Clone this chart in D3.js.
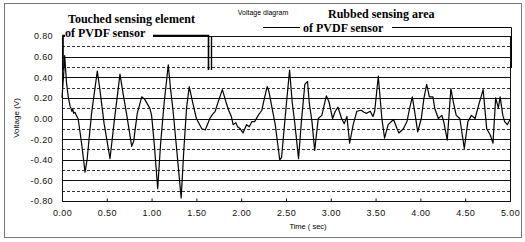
<!DOCTYPE html>
<html>
<head>
<meta charset="utf-8">
<script src="https://cdn.jsdelivr.net/npm/d3@7"></script>
<style>
  body { margin: 0; background: #fff; }
  svg { display: block; }
  .tick text { font-family: "Liberation Sans", Arial, sans-serif; font-size: 9px; fill: #111; letter-spacing: 0.4px; }
  .note { font-family: "Liberation Serif", "Times New Roman", serif; font-weight: bold; font-size: 12px; fill: #000; }
</style>
</head>
<body>
<div id="chart"></div>
<script>
// voltage signal (time in sec, voltage in V)
var times = [0.00, 0.02, 0.03, 0.05, 0.07, 0.09, 0.10, 0.11, 0.12, 0.13, 0.145, 0.16, 0.18,
  0.22, 0.257, 0.28, 0.33, 0.394, 0.42, 0.47, 0.536, 0.58, 0.647, 0.68, 0.72, 0.778, 0.80,
  0.84, 0.89, 0.92, 0.96, 0.98, 1.00, 1.03, 1.068, 1.10, 1.14, 1.186, 1.21, 1.24, 1.28, 1.33,
  1.36, 1.39, 1.42, 1.46, 1.50, 1.56, 1.60, 1.65, 1.68, 1.71, 1.75, 1.79, 1.83, 1.86, 1.89,
  1.91, 1.94, 1.96, 1.99, 2.02, 2.06, 2.09, 2.12, 2.15, 2.19, 2.23, 2.26, 2.29, 2.31, 2.34,
  2.38, 2.43, 2.45, 2.50, 2.54, 2.57, 2.60, 2.64, 2.67, 2.71, 2.74, 2.76, 2.79, 2.82, 2.86,
  2.90, 2.95, 2.98, 3.02, 3.05, 3.08, 3.12, 3.15, 3.18, 3.21, 3.25, 3.29, 3.34, 3.37, 3.40,
  3.44, 3.47, 3.49, 3.53, 3.57, 3.60, 3.64, 3.70, 3.74, 3.76, 3.81, 3.85, 3.88, 3.91, 3.93,
  3.97, 4.01, 4.04, 4.07, 4.10, 4.14, 4.16, 4.20, 4.24, 4.26, 4.30, 4.34, 4.37, 4.40, 4.44,
  4.49, 4.53, 4.57, 4.61, 4.65, 4.70, 4.74, 4.78, 4.81, 4.84, 4.87, 4.89, 4.92, 4.94, 4.97, 5.00];
var volts = [0.20, 0.45, 0.61, 0.35, 0.21, 0.12, 0.10, 0.07, 0.09, 0.05, 0.06, 0.03, 0.00,
  -0.25, -0.52, -0.40, 0.05, 0.46, 0.30, -0.05, -0.39, -0.05, 0.43, 0.25, 0.05, -0.27, -0.22,
  0.05, 0.21, 0.19, 0.13, 0.10, 0.03, -0.25, -0.68, -0.25, 0.15, 0.52, 0.30, 0.07, -0.30, -0.77,
  -0.30, 0.10, 0.31, 0.15, 0.00, -0.10, -0.11, 0.00, 0.04, 0.07, 0.18, 0.28, 0.16, 0.08, 0.02,
  -0.06, -0.04, -0.08, -0.10, -0.14, -0.06, -0.08, -0.03, -0.03, 0.03, 0.08, 0.20, 0.31, 0.26, 0.12,
  -0.06, -0.40, -0.38, 0.10, 0.47, 0.15, -0.06, -0.39, -0.05, 0.33, 0.36, 0.15, -0.03, -0.31, 0.00,
  0.03, 0.22, 0.16, 0.00, 0.07, 0.11, 0.00, -0.05, 0.02, -0.24, -0.06, 0.07, 0.08, 0.06, 0.05,
  0.07, 0.02, 0.07, 0.41, 0.00, -0.19, -0.06, -0.01, -0.10, -0.14, -0.10, -0.03, 0.10, 0.21, 0.10,
  -0.13, 0.00, 0.20, 0.33, 0.21, 0.21, 0.10, 0.00, 0.03, -0.03, -0.21, 0.29, 0.15, 0.03, 0.00,
  -0.29, -0.03, 0.03, 0.00, 0.13, 0.28, -0.10, -0.16, -0.24, 0.20, 0.10, 0.21, 0.03, -0.03, -0.06, -0.01];

var xTicks = [0, 0.5, 1, 1.5, 2, 2.5, 3, 3.5, 4, 4.5, 5];
var yTicks = [-0.8, -0.6, -0.4, -0.2, 0, 0.2, 0.4, 0.6, 0.8];
var yMinor = [-0.7, -0.5, -0.3, -0.1, 0.1, 0.3, 0.5, 0.7];

var width = 525,
    height = 242;

var svg = d3.select("#chart").append("svg")
    .attr("width", width)
    .attr("height", height);

// outer frame
svg.append("rect")
    .attr("x", 4.5).attr("y", 3.5)
    .attr("width", 517).attr("height", 234)
    .attr("fill", "none")
    .attr("stroke", "#777")
    .attr("stroke-width", 1);

var x = d3.scaleLinear().domain([0, 5]).range([62, 510]);
var y = d3.scaleLinear().domain([-0.8, 0.8]).range([201, 36]);

// minor (dashed) grid
svg.append("g").selectAll("line")
  .data(yMinor)
  .enter().append("line")
    .attr("x1", x(0)).attr("x2", x(5))
    .attr("y1", function(d) { return Math.round(y(d)) + 0.5; })
    .attr("y2", function(d) { return Math.round(y(d)) + 0.5; })
    .attr("stroke", "#333")
    .attr("stroke-dasharray", "3,2");

// major (solid) grid
svg.append("g").selectAll("line")
  .data(yTicks)
  .enter().append("line")
    .attr("x1", x(0)).attr("x2", x(5))
    .attr("y1", function(d) { return Math.round(y(d)) + 0.5; })
    .attr("y2", function(d) { return Math.round(y(d)) + 0.5; })
    .attr("stroke", "#111");

// plot border
svg.append("rect")
    .attr("x", x(0) + 0.5).attr("y", Math.round(y(0.8)) + 0.5)
    .attr("width", x(5) - x(0)).attr("height", Math.round(y(-0.8)) - Math.round(y(0.8)))
    .attr("fill", "none")
    .attr("stroke", "#111");

svg.append("g")
    .attr("transform", "translate(" + x(0) + ",0)")
    .call(d3.axisLeft(y).tickValues(yTicks).tickSize(0).tickPadding(9)
      .tickFormat(function(d) { return d.toFixed(2); }))
  .select(".domain").remove();

svg.append("g")
    .attr("transform", "translate(0," + (Math.round(y(-0.8)) + 0.5) + ")")
    .call(d3.axisBottom(x).tickValues(xTicks).tickSizeInner(-3).tickSizeOuter(0).tickPadding(8)
      .tickFormat(function(d) { return d.toFixed(2); }))
  .call(function(g) { g.select(".domain").remove(); })
  .selectAll(".tick line").attr("stroke", "#111");

// signal
var line = d3.line()
    .x(function(d, i) { return x(times[i]); })
    .y(function(d) { return y(d); });

svg.append("path")
    .datum(volts)
    .attr("fill", "none")
    .attr("stroke", "#000")
    .attr("stroke-width", 1.2)
    .attr("stroke-linejoin", "round")
    .attr("d", line);

// brackets and notes
svg.append("path")
    .attr("d", "M63,70V35.5H208.5V70")
    .attr("fill", "none").attr("stroke", "#000").attr("stroke-width", 1.6);
svg.append("path")
    .attr("d", "M211.5,70V36.5")
    .attr("fill", "none").attr("stroke", "#000").attr("stroke-width", 1.4);
svg.append("path")
    .attr("d", "M263,27.5H300M392,27.5H511.5V68")
    .attr("fill", "none").attr("stroke", "#000").attr("stroke-width", 1);

svg.append("rect").attr("x", 65).attr("y", 29).attr("width", 88).attr("height", 8).attr("fill", "#fff");
svg.append("text").attr("class", "note").attr("x", 68).attr("y", 23).text("Touched sensing element");
svg.append("text").attr("class", "note").attr("x", 65).attr("y", 37).text("of PVDF sensor");
svg.append("text").attr("class", "note").attr("x", 328).attr("y", 18).text("Rubbed sensing area");
svg.append("text").attr("class", "note").attr("x", 303).attr("y", 32).text("of PVDF sensor");

svg.append("text")
    .attr("x", 263).attr("y", 15)
    .attr("text-anchor", "middle")
    .style("font-family", "Liberation Sans, Arial, sans-serif")
    .style("font-size", "7px")
    .text("Voltage diagram");

svg.append("text")
    .attr("x", 308).attr("y", 229)
    .attr("text-anchor", "middle")
    .style("font-family", "Liberation Sans, Arial, sans-serif")
    .style("font-size", "7.5px")
    .text("Time ( sec)");

svg.append("text")
    .attr("transform", "translate(19,118) rotate(-90)")
    .attr("text-anchor", "middle")
    .style("font-family", "Liberation Sans, Arial, sans-serif")
    .style("font-size", "8px")
    .text("Voltage (V)");
</script>
</body>
</html>
